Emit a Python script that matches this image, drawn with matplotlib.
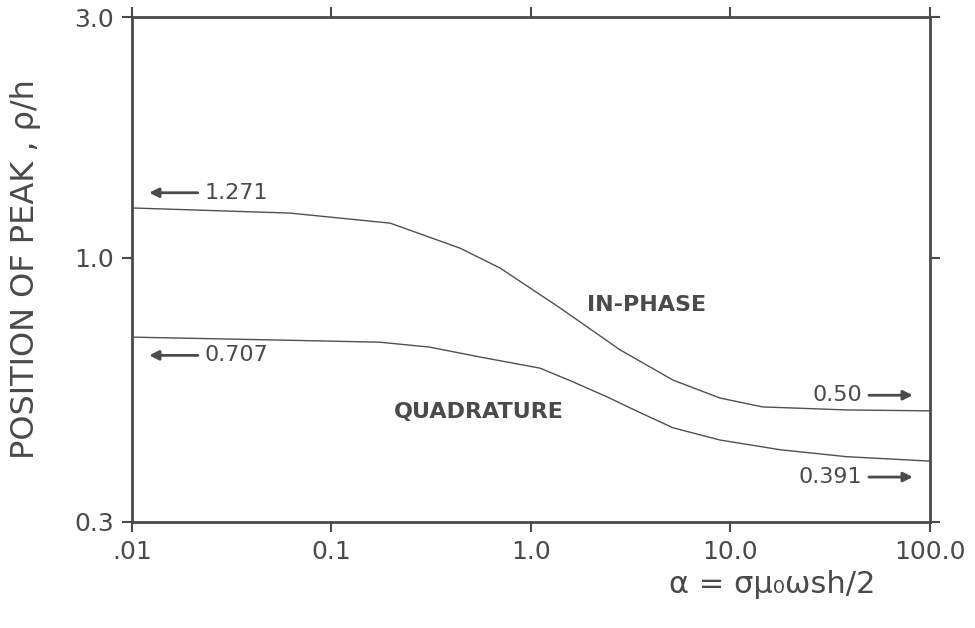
import matplotlib.pyplot as plt
from matplotlib.ticker import FixedLocator, NullLocator

# peak position vs alpha
alpha_in = [0.01, 0.062, 0.197, 0.44, 0.70, 1.40, 2.79, 5.15, 8.85, 14.5, 38.4, 100.0]
peak_in = [1.256, 1.227, 1.172, 1.046, 0.955, 0.796, 0.658, 0.573, 0.528, 0.507, 0.500, 0.498]

alpha_quad = [0.01, 0.062, 0.175, 0.31, 0.55, 1.11, 1.63, 2.40, 3.52, 5.15, 8.85, 17.8, 38.4, 100.0]
peak_quad = [0.697, 0.687, 0.681, 0.666, 0.637, 0.605, 0.568, 0.531, 0.494, 0.461, 0.436, 0.417, 0.404, 0.396]

# limiting values at small and large alpha
low_limits = [1.271, 0.707]
high_limits = [0.50, 0.391]

x_ticks = [0.01, 0.1, 1.0, 10.0, 100.0]
x_ticklabels = [".01", "0.1", "1.0", "10.0", "100.0"]
y_ticks = [0.3, 1.0, 3.0]
y_ticklabels = ["0.3", "1.0", "3.0"]

ink = "#4a4a4a"
plt.rcParams["font.family"] = ["DejaVu Sans"]

fig = plt.figure(figsize=(9.75, 6.28), dpi=100)
ax = fig.add_axes([0.1354, 0.1688, 0.8184, 0.8041])

ax.plot(alpha_in, peak_in, color="#505050", lw=1.0)
ax.plot(alpha_quad, peak_quad, color="#505050", lw=1.0)

ax.set_xscale("log")
ax.set_yscale("log")
ax.set_xlim(0.01, 100)
ax.set_ylim(0.3, 3.0)

ax.xaxis.set_major_locator(FixedLocator(x_ticks))
ax.xaxis.set_minor_locator(NullLocator())
ax.set_xticklabels(x_ticklabels)
ax.yaxis.set_major_locator(FixedLocator(y_ticks))
ax.yaxis.set_minor_locator(NullLocator())
ax.set_yticklabels(y_ticklabels)

ax.tick_params(which="major", direction="out", length=7, width=1.5, color=ink,
               labelsize=18, labelcolor=ink, pad=6, top=True, right=True)
for side in ax.spines.values():
    side.set_linewidth(2.0)
    side.set_color(ink)

ax.set_ylabel("POSITION OF PEAK , ρ/h", fontsize=23, color=ink)
ax.yaxis.set_label_coords(-0.114, 0.50)
fig.text(0.792, 0.069, "α = σμ₀ωsh/2", fontsize=22, color=ink, ha="center", va="center")

ax.text(0.645, 0.43, "IN-PHASE", transform=ax.transAxes, fontsize=16,
        fontweight="bold", color=ink, ha="center", va="center")
ax.text(0.434, 0.218, "QUADRATURE", transform=ax.transAxes, fontsize=16,
        fontweight="bold", color=ink, ha="center", va="center")

arrow = dict(arrowstyle="-|>", color=ink, lw=2.0, mutation_scale=14)
# arrows to the left for the small-alpha limits
for val, ypos in zip(low_limits, [0.652, 0.330]):
    ax.annotate("", xy=(0.018, ypos), xytext=(0.086, ypos),
                xycoords="axes fraction", arrowprops=arrow)
    ax.text(0.091, ypos, f"{val:.3f}", transform=ax.transAxes, fontsize=16,
            color=ink, ha="left", va="center")
# arrows to the right for the large-alpha limits
for label, ypos in zip([f"{high_limits[0]:.2f}", f"{high_limits[1]:.3f}"], [0.251, 0.089]):
    ax.annotate("", xy=(0.982, ypos), xytext=(0.92, ypos),
                xycoords="axes fraction", arrowprops=arrow)
    ax.text(0.915, ypos, label, transform=ax.transAxes, fontsize=16,
            color=ink, ha="right", va="center")

fig.savefig("out.png", dpi=100, facecolor="white")
